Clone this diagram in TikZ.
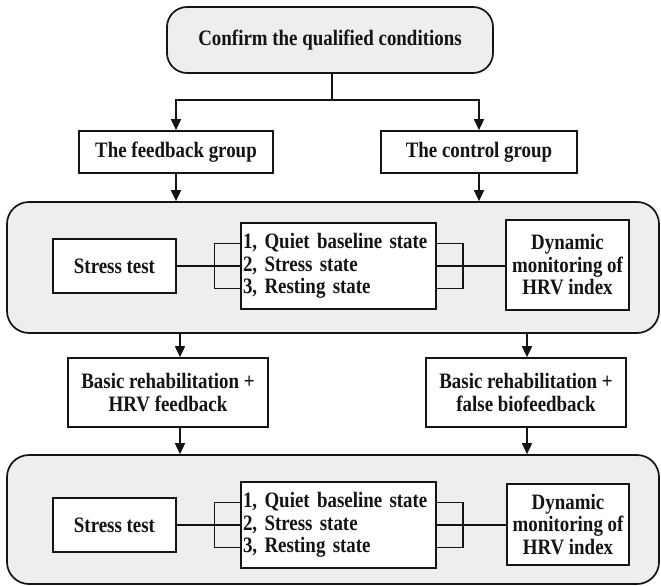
\documentclass[tikz,border=0pt]{standalone}
\usepackage{fontspec}
\setmainfont{Liberation Serif}[FakeStretch=0.86]
\usetikzlibrary{arrows.meta}
\definecolor{panelgrey}{RGB}{238,238,238}
\definecolor{ink}{RGB}{20,20,20}
\begin{document}
\begin{tikzpicture}[x=1pt,y=-1pt,
  every node/.style={font=\bfseries\fontsize{22}{22.5}\selectfont, text=ink},
  box/.style={draw=ink, line width=1.7pt, fill=white, inner sep=0pt, align=center},
  panel/.style={draw=ink, line width=1.7pt, fill=panelgrey, rounded corners=22pt, inner sep=0pt},
  steps/.style={box, text width=191pt, inner xsep=2pt, align=left, minimum height=86pt},
  link/.style={draw=ink, line width=1.7pt},
  arr/.style={link, -{Triangle[width=10pt,length=11pt]}},
]
\useasboundingbox (0,0) rectangle (661,586);

% start of the flow
\node[panel, rounded corners=20pt, minimum width=326pt, minimum height=66pt] (top) at (330,40) {Confirm the qualified conditions};

% the two groups
\node[box, minimum width=194pt, minimum height=42pt] (fb) at (176,152) {The feedback group};
\node[box, minimum width=196pt, minimum height=42pt] (cg) at (479,152) {The control group};

% first measurement panel
\node[panel, minimum width=652pt, minimum height=131pt] (g1) at (333,267.5) {};
\node[box, minimum width=123pt, minimum height=54pt] (st1) at (114.5,266) {Stress test};
\node[steps] (cb1) at (338.5,266) {1, Quiet baseline state\\2, Stress state\\3, Resting state};
\node[box, minimum width=123pt, minimum height=90pt] (dm1) at (567.5,265) {Dynamic\\monitoring of\\HRV index};

% interventions
\node[box, minimum width=200pt, minimum height=69pt] (rl) at (168,392.5) {Basic rehabilitation +\\HRV feedback};
\node[box, minimum width=200pt, minimum height=69pt] (rr) at (526,392.5) {Basic rehabilitation +\\false biofeedback};

% second measurement panel
\node[panel, minimum width=652pt, minimum height=129pt] (g2) at (333,519.5) {};
\node[box, minimum width=123pt, minimum height=54pt] (st2) at (114.5,525) {Stress test};
\node[steps] (cb2) at (338.5,525) {1, Quiet baseline state\\2, Stress state\\3, Resting state};
\node[box, minimum width=122pt, minimum height=81pt] (dm2) at (568,524.5) {Dynamic\\monitoring of\\HRV index};

% branch points and arrow columns
\coordinate (split) at (332,100);
\coordinate (lx) at (180,0);
\coordinate (rx) at (527,0);
\coordinate (lb) at (214.5,0);
\coordinate (rb) at (463,0);

% top split
\draw[link] (top.south -| split) -- (split);
\draw[arr] (split) -| (fb.north);
\draw[arr] (split) -| (cg.north);
\draw[arr] (fb.south) -- (fb.south |- g1.north);
\draw[arr] (cg.south) -- (cg.south |- g1.north);

% panel to interventions and on
\draw[arr] (g1.south -| lx) -- (rl.north -| lx);
\draw[arr] (g1.south -| rx) -- (rr.north -| rx);
\draw[arr] (rl.south -| lx) -- (g2.north -| lx);
\draw[arr] (rr.south -| rx) -- (g2.north -| rx);

% brackets inside each panel
\foreach \n in {1,2}{
  \draw[link] (st\n.east) -- (st\n.east -| cb\n.west);
  \draw[link] ([yshift=-22.5pt]cb\n.west) -| ([yshift=-22.5pt]cb\n.west -| lb)
              |- ([yshift=22.5pt]cb\n.west);
  \draw[link] ([yshift=-22.5pt]cb\n.east) -| ([yshift=-22.5pt]cb\n.east -| rb)
              |- ([yshift=22.5pt]cb\n.east);
  \draw[link] (cb\n.east) -- (cb\n.east -| dm\n.west);
}
\end{tikzpicture}
\end{document}
